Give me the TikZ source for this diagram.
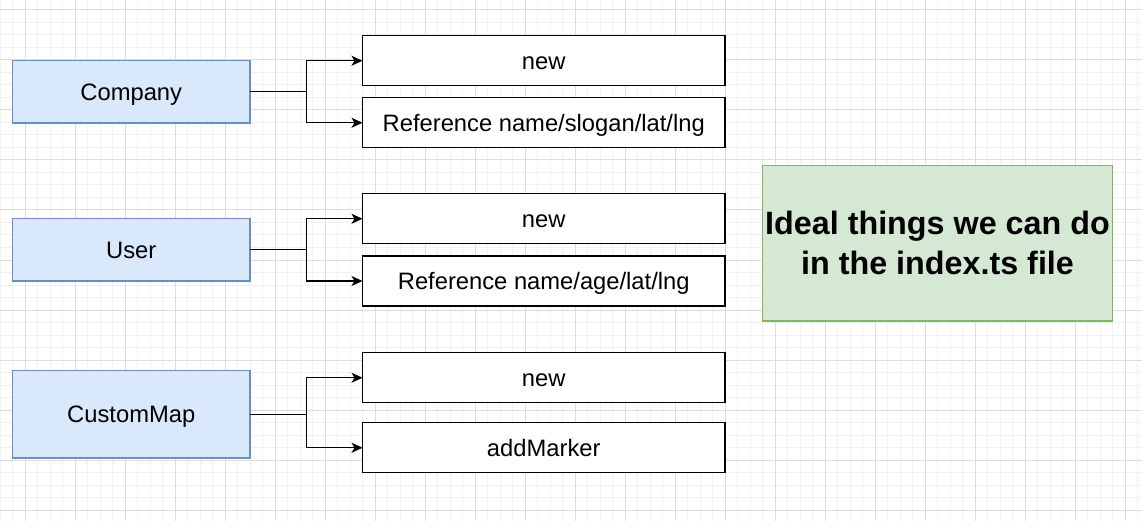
\documentclass[tikz,border=0pt]{standalone}
\usepackage{fontspec}
\setmainfont{Liberation Sans}
\usetikzlibrary{arrows.meta}
\definecolor{bluefill}{HTML}{DAE8FC}
\definecolor{bluestroke}{HTML}{6C8EBF}
\definecolor{greenfill}{HTML}{D5E8D4}
\definecolor{greenstroke}{HTML}{82B366}
\definecolor{gridmajor}{HTML}{DCDCDC}
\definecolor{gridminor}{HTML}{F1F1F1}
\tikzset{
  classbox/.style={draw=bluestroke,fill=bluefill,line width=1.25pt,minimum width=237.5pt,minimum height=62.5pt,inner sep=0pt,outer sep=0pt,text height=17pt,text depth=0pt,font=\fontsize{23.75}{28}\selectfont},
  opbox/.style={draw=black,fill=white,line width=1.25pt,minimum width=362.5pt,minimum height=50pt,inner sep=0pt,outer sep=0pt,text height=17pt,text depth=0pt,font=\fontsize{23.75}{28}\selectfont},
  notebox/.style={draw=greenstroke,fill=greenfill,line width=1.25pt,minimum width=350pt,minimum height=155.5pt,inner sep=0pt,outer sep=0pt,align=center,font=\fontsize{32.3}{40}\selectfont\bfseries},
  conn/.style={draw=black,line width=1.25pt,-{Stealth[length=11pt,width=10pt,inset=3pt]}}
}
\begin{document}
\begin{tikzpicture}[x=1pt,y=-1pt]
\useasboundingbox (0,0) rectangle (1142,521);
\fill[white] (0,0) rectangle (1142,521);
% grid
\foreach \x in {0,12.5,...,1142} \draw[gridminor,line width=1pt] (\x,0) -- (\x,521);
\foreach \y in {-2.5,10,...,521} \draw[gridminor,line width=1pt] (0,\y) -- (1142,\y);
\foreach \x in {25,75,...,1142} \draw[gridmajor,line width=1pt] (\x,0) -- (\x,521);
\foreach \y in {10,60,...,521} \draw[gridmajor,line width=1pt] (0,\y) -- (1142,\y);
% class boxes
\node[classbox] (company) at (131.25,91.75) {Company};
\node[classbox] (user) at (131.25,249.75) {User};
\node[classbox,minimum height=87.5pt] (custommap) at (131.25,414.25) {CustomMap};
% op boxes
\node[opbox] (cnew) at (543.75,60.75) {new};
\node[opbox] (cref) at (543.75,122.75) {Reference name/slogan/lat/lng};
\node[opbox] (unew) at (543.75,218.75) {new};
\node[opbox] (uref) at (543.75,281) {Reference name/age/lat/lng};
\node[opbox] (mnew) at (543.75,377.75) {new};
\node[opbox] (madd) at (543.75,447.75) {addMarker};
% note
\node[notebox] (note) at (937.5,243.25) {Ideal things we can do\\in the index.ts file};
% connectors
\draw[conn] (company.east) -- ++(56.25,0) |- (cnew.west);
\draw[conn] (company.east) -- ++(56.25,0) |- (cref.west);
\draw[conn] (user.east) -- ++(56.25,0) |- (unew.west);
\draw[conn] (user.east) -- ++(56.25,0) |- (uref.west);
\draw[conn] (custommap.east) -- ++(56.25,0) |- (mnew.west);
\draw[conn] (custommap.east) -- ++(56.25,0) |- (madd.west);
\end{tikzpicture}
\end{document}
